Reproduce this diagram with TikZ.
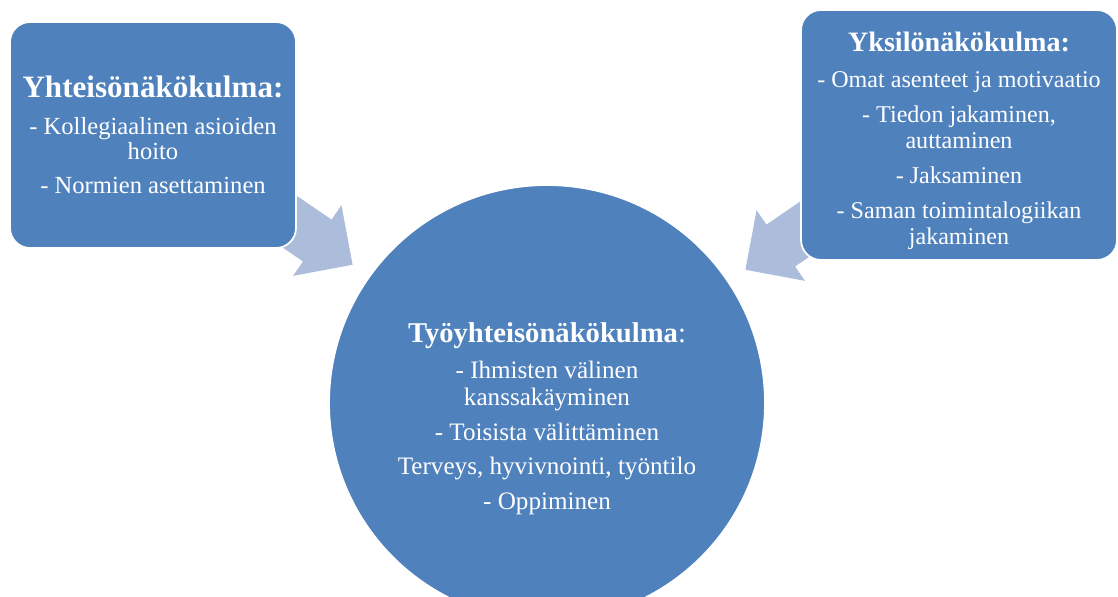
\documentclass[tikz,border=0pt]{standalone}
\usepackage{fontspec}
\setmainfont{Liberation Serif}
\usetikzlibrary{shapes.arrows}
\definecolor{sininen}{HTML}{4F81BD}
\definecolor{vaalea}{RGB}{172,188,219}
\begin{document}
\begin{tikzpicture}[x=0.02cm,y=-0.02cm,
  kulma/.style={draw=white,line width=1pt,fill=sininen,rounded corners=0.4cm,text=white,align=center,inner sep=0},
  nuolikuvio/.style={single arrow,fill=vaalea,minimum width=1.7cm,single arrow head extend=0.35cm,inner xsep=0,inner ysep=0.5cm,minimum height=2.3cm}]
\useasboundingbox(0,0)rectangle(1118,596);
% nuolet ensin, laatikot peittavat hannat
\node[nuolikuvio,rotate=-34.4,anchor=tip](nuoliV)at(353,265){};
\node[nuolikuvio,rotate=-145.6,anchor=tip](nuoliO)at(745,270){};
\node[kulma,minimum width=5.72cm,minimum height=4.52cm,font=\fontsize{14}{14.3}\selectfont](yhteiso)at(153,135){%
{\bfseries\fontsize{17.7}{20}\selectfont Yhteisönäkökulma:}\\[7pt]
- Kollegiaalinen asioiden\\hoito\\[5pt]
- Normien asettaminen};
\node[kulma,minimum width=6.32cm,minimum height=5cm,font=\fontsize{13.7}{14.6}\selectfont](yksilo)at(959,135){%
\rule{0pt}{18pt}{\bfseries\fontsize{16}{18}\selectfont Yksilönäkökulma:}\\[5.5pt]
- Omat asenteet ja motivaatio\\[5.5pt]
- Tiedon jakaminen,\\auttaminen\\[5.5pt]
- Jaksaminen\\[5.5pt]
- Saman toimintalogiikan\\jakaminen};
\node[circle,draw=white,line width=1pt,fill=sininen,minimum size=8.72cm,inner sep=0](tyo)at(547,403){};
\node[text=white,align=center,font=\fontsize{14.3}{15.3}\selectfont](tyoteksti)at(547,419){%
{\bfseries\fontsize{16.3}{18}\selectfont Työyhteisönäkökulma}{\fontsize{16.3}{18}\selectfont:}\\[5pt]
- Ihmisten välinen\\kanssakäyminen\\[4.5pt]
- Toisista välittäminen\\[4.5pt]
Terveys, hyvivnointi, työntilo\\[4.5pt]
- Oppiminen};
\end{tikzpicture}
\end{document}
